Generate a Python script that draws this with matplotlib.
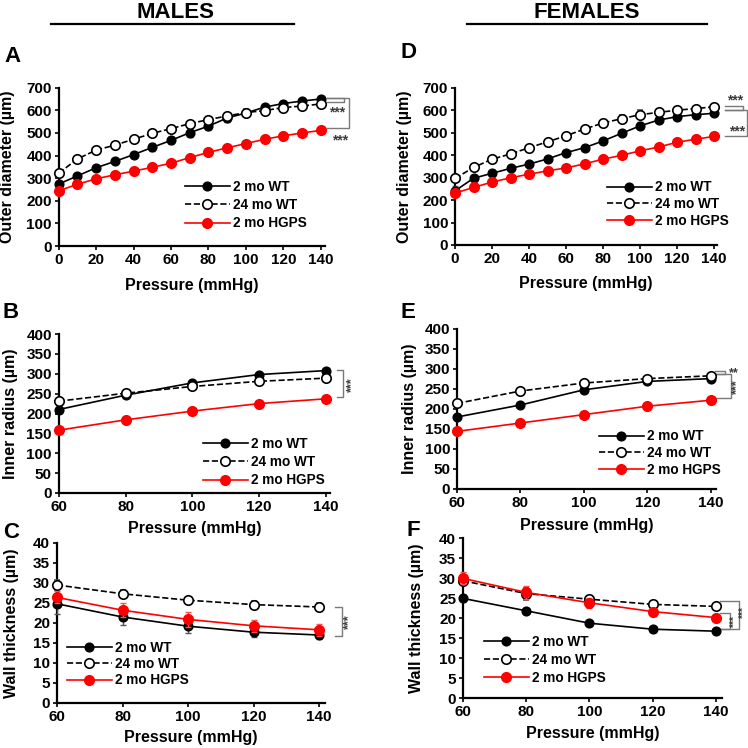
import matplotlib
matplotlib.use('Agg')
import matplotlib.pyplot as plt
import matplotlib.transforms as mtransforms
from matplotlib.lines import Line2D

plt.rcParams['font.family'] = ['Liberation Sans', 'DejaVu Sans']
plt.rcParams['font.weight'] = 'bold'
plt.rcParams['axes.labelweight'] = 'bold'

# ---------------- data ----------------
pressure_full = [0, 10, 20, 30, 40, 50, 60, 70, 80, 90, 100, 110, 120, 130, 140]
pressure_sub = [60, 80, 100, 120, 140]
series_labels = ['2 mo WT', '24 mo WT', '2 mo HGPS']

# A: males outer diameter (um)
m_od_wt2 = [274, 310, 346, 374, 404, 436, 467, 501, 530, 566, 588, 614, 630, 641, 650]
m_od_wt2_err = [6, 6, 8, 8, 10, 18, 16, 18, 16, 16, 14, 10, 8, 6, 6]
m_od_wt24 = [322, 385, 424, 446, 472, 498, 519, 541, 559, 575, 590, 599, 612, 619, 628]
m_od_wt24_err = [8, 8, 8, 8, 8, 8, 8, 8, 8, 14, 16, 10, 8, 8, 10]
m_od_hg = [244, 273, 297, 315, 331, 348, 366, 391, 414, 434, 453, 472, 487, 500, 511]
m_od_hg_err = [5, 5, 5, 5, 5, 5, 5, 5, 5, 5, 5, 5, 5, 5, 5]

# D: females outer diameter (um)
f_od_wt2 = [241, 297, 319, 341, 360, 383, 411, 433, 463, 497, 530, 556, 571, 580, 586]
f_od_wt2_err = [20, 8, 8, 8, 8, 8, 8, 8, 8, 10, 16, 10, 10, 8, 8]
f_od_wt24 = [296, 345, 382, 405, 433, 459, 486, 516, 543, 562, 580, 590, 600, 607, 615]
f_od_wt24_err = [8, 8, 8, 8, 8, 8, 8, 8, 10, 16, 20, 16, 15, 12, 12]
f_od_hg = [231, 256, 280, 299, 315, 330, 343, 361, 382, 399, 419, 436, 457, 471, 483]
f_od_hg_err = [5, 5, 5, 5, 5, 5, 5, 5, 5, 5, 5, 5, 5, 5, 5]

# B: males inner radius (um)
m_ir_wt2 = [210, 246, 277, 298, 308]
m_ir_wt2_err = [6, 5, 5, 5, 5]
m_ir_wt24 = [231, 251, 268, 281, 289]
m_ir_wt24_err = [5, 5, 5, 5, 5]
m_ir_hg = [158, 184, 206, 225, 237]
m_ir_hg_err = [4, 4, 4, 4, 4]

# E: females inner radius (um)
f_ir_wt2 = [180, 210, 248, 269, 276]
f_ir_wt2_err = [5, 5, 5, 5, 5]
f_ir_wt24 = [214, 245, 265, 276, 283]
f_ir_wt24_err = [5, 5, 5, 5, 5]
f_ir_hg = [144, 165, 186, 207, 222]
f_ir_hg_err = [4, 4, 4, 4, 4]

# C: males wall thickness (um)
m_wt_wt2 = [24.8, 21.5, 19.2, 17.7, 17.0]
m_wt_wt2_err = [2.5, 2.0, 1.6, 1.3, 1.0]
m_wt_wt24 = [29.5, 27.3, 25.7, 24.6, 24.0]
m_wt_wt24_err = [1.3, 0.9, 0.8, 0.8, 1.0]
m_wt_hg = [26.4, 23.2, 20.9, 19.3, 18.3]
m_wt_hg_err = [1.5, 1.8, 1.8, 1.5, 1.5]

# F: females wall thickness (um)
f_wt_wt2 = [24.9, 21.8, 18.7, 17.2, 16.7]
f_wt_wt2_err = [0.8, 0.7, 0.7, 0.6, 0.6]
f_wt_wt24 = [29.3, 26.1, 24.7, 23.4, 22.9]
f_wt_wt24_err = [1.0, 1.5, 0.8, 0.7, 0.7]
f_wt_hg = [29.9, 26.4, 23.8, 21.6, 20.1]
f_wt_hg_err = [1.5, 1.7, 1.2, 1.0, 0.9]

# ---------------- figure ----------------
W = H = 748
fig = plt.figure(figsize=(W / 100, H / 100), dpi=100)

def add_ax(left, right, top, bottom):
    return fig.add_axes([left / W, 1 - bottom / H, (right - left) / W, (bottom - top) / H])

GRAY = '#7a7a7a'
TXT_GRAY = '#3a3a3a'

def draw(ax, x, wt, wte, old, olde, hg, hge, xlim, ylim, yticks, xticks, ylabel,
         leg_xy, leg_space, xl_y, yl_x):
    c1 = ax.errorbar(x, wt, yerr=wte, color='black', marker='o', ms=6.3, mfc='black', mec='black',
                     lw=1.2, ecolor='#555555', elinewidth=1.0, capsize=2, capthick=1.0, zorder=3)
    c2 = ax.errorbar(x, old, yerr=olde, color='black', ls='--', marker='o', ms=6.8, mfc='white',
                     mec='black', mew=1.2, lw=1.2, ecolor='#555555', elinewidth=1.0, capsize=2,
                     capthick=1.0, zorder=4)
    c3 = ax.errorbar(x, hg, yerr=hge, color='#ff0000', marker='o', ms=7.0, mfc='#ff0000',
                     mec='#ff0000', lw=1.2, ecolor='#ff5050', elinewidth=1.0, capsize=2,
                     capthick=1.0, zorder=5)
    for c in (c1, c2, c3):
        c[0].set_clip_on(False)
        for b in c[1]:
            b.set_clip_on(False)
        for b in c[2]:
            b.set_clip_on(False)
    ax.set_xlim(*xlim)
    ax.set_ylim(*ylim)
    ax.set_yticks(yticks)
    ax.set_xticks(xticks)
    for s in ('top', 'right'):
        ax.spines[s].set_visible(False)
    for s in ('left', 'bottom'):
        ax.spines[s].set_linewidth(1.6)
    ax.tick_params(direction='out', length=3, width=1.2, labelsize=11, pad=2)
    for lab in ax.get_xticklabels() + ax.get_yticklabels():
        lab.set_fontweight('bold')
    ax.set_xlabel('Pressure (mmHg)', fontsize=11.5, fontweight='bold')
    ax.set_ylabel(ylabel, fontsize=11.5, fontweight='bold')
    ax.xaxis.set_label_coords(0.5, xl_y)
    ax.yaxis.set_label_coords(yl_x, 0.5)
    handles = [c1[0], c2[0], c3[0]]
    lx, ly = leg_xy
    leg = ax.legend(handles, series_labels, loc='center left',
                    bbox_to_anchor=(lx / W, 1 - ly / H), bbox_transform=fig.transFigure,
                    frameon=False, fontsize=9.8, handlelength=3.3, handletextpad=0.2,
                    labelspacing=leg_space, borderpad=0, borderaxespad=0)
    for t in leg.get_texts():
        t.set_fontweight('bold')
    return ax

def bracket(ax, x0, x1, ya, yb, color=GRAY):
    tr = mtransforms.blended_transform_factory(ax.transAxes, ax.transData)
    ax.plot([x0, x1, x1, x0], [ya, ya, yb, yb], color=color, lw=1.0, transform=tr,
            clip_on=False, zorder=2)

def stars(ax, x, y, s='***', rot=0, size=10):
    tr = mtransforms.blended_transform_factory(ax.transAxes, ax.transData)
    ax.text(x, y, s, transform=tr, rotation=rot, ha='center', va='center', fontsize=size,
            color=TXT_GRAY, fontweight='bold', clip_on=False)

# A
axA = add_ax(58.7, 325, 87.7, 246)
draw(axA, pressure_full, m_od_wt2, m_od_wt2_err, m_od_wt24, m_od_wt24_err, m_od_hg, m_od_hg_err,
     (0, 142.3), (0, 700), range(0, 701, 100), range(0, 141, 20), 'Outer diameter (\u00b5m)',
     (185, 205), 0.32, -0.20, -0.165)
bracket(axA, 1.008, 1.070, m_od_wt2[-1] + 3, m_od_wt24[-1] + 8)
bracket(axA, 1.008, 1.090, m_od_wt2[-1] + 3, m_od_hg[-1] + 10)
stars(axA, 1.045, 590)
stars(axA, 1.058, 465)

# D
axD = add_ax(455, 717, 87.7, 245)
draw(axD, pressure_full, f_od_wt2, f_od_wt2_err, f_od_wt24, f_od_wt24_err, f_od_hg, f_od_hg_err,
     (0, 141.6), (0, 700), range(0, 701, 100), range(0, 141, 20), 'Outer diameter (\u00b5m)',
     (607, 204), 0.2, -0.197, -0.165)
bracket(axD, 1.031, 1.099, f_od_wt24[-1] + 5, f_od_wt2[-1] + 15)
bracket(axD, 1.031, 1.114, f_od_wt2[-1] + 15, f_od_hg[-1] + 3)
stars(axD, 1.069, 642)
stars(axD, 1.076, 503)

# B
axB = add_ax(58.7, 330, 334, 493)
draw(axB, pressure_sub, m_ir_wt2, m_ir_wt2_err, m_ir_wt24, m_ir_wt24_err, m_ir_hg, m_ir_hg_err,
     (60, 141.2), (0, 400), range(0, 401, 50), pressure_sub, 'Inner radius (\u00b5m)',
     (203, 462), 0.32, -0.176, -0.150)
bracket(axB, 1.025, 1.049, m_ir_wt2[-1] + 1, m_ir_hg[-1] + 4)
stars(axB, 1.080, 273, rot=90, size=9)

# E
axE = add_ax(457, 716, 329, 489)
draw(axE, pressure_sub, f_ir_wt2, f_ir_wt2_err, f_ir_wt24, f_ir_wt24_err, f_ir_hg, f_ir_hg_err,
     (60, 141.6), (0, 400), range(0, 401, 50), pressure_sub, 'Inner radius (\u00b5m)',
     (599, 453), 0.2, -0.18, -0.155)
bracket(axE, 0.996, 1.035, f_ir_wt24[-1] + 13, f_ir_wt2[-1] + 11)
bracket(axE, 0.996, 1.057, f_ir_wt2[-1] + 11, f_ir_hg[-1] + 6)
stars(axE, 1.068, 289, s='**', size=9)
stars(axE, 1.082, 257, rot=90, size=9)

# C
axC = add_ax(57, 325, 543, 703)
draw(axC, pressure_sub, m_wt_wt2, m_wt_wt2_err, m_wt_wt24, m_wt_wt24_err, m_wt_hg, m_wt_hg_err,
     (60, 141.8), (0, 40), range(0, 41, 5), pressure_sub, 'Wall thickness (\u00b5m)',
     (67, 664), 0.18, -0.17, -0.143)
bracket(axC, 1.037, 1.062, m_wt_wt24[-1] - 0.1, m_wt_wt2[-1] - 0.2)
stars(axC, 1.090, 20.4, rot=90, size=9)

# F
axF = add_ax(463, 722, 538, 698)
draw(axF, pressure_sub, f_wt_wt2, f_wt_wt2_err, f_wt_wt24, f_wt_wt24_err, f_wt_hg, f_wt_hg_err,
     (60, 141.9), (0, 40), range(0, 41, 5), pressure_sub, 'Wall thickness (\u00b5m)',
     (484, 660), 0.28, -0.175, -0.151)
bracket(axF, 0.992, 1.067, f_wt_wt24[-1] + 1.3, f_wt_wt2[-1] + 0.5)
bracket(axF, 0.992, 1.031, f_wt_hg[-1] + 1.1, f_wt_wt2[-1] + 0.5)
stars(axF, 1.083, 21.3, rot=90, size=7.5)
stars(axF, 1.048, 19.0, rot=90, size=7.5)

# panel letters
letter_font = ['Liberation Sans Narrow', 'Liberation Sans']
for lab, (px, py) in {'A': (4, 56), 'D': (400, 53), 'B': (3, 313), 'E': (400, 313),
                      'C': (3, 532), 'F': (407, 531)}.items():
    fig.text(px / W, 1 - py / H, lab, fontsize=16, fontweight='bold', family=letter_font,
             ha='left', va='center')

# headers
for lab, cx, x0, x1 in (('MALES', 176, 51, 294), ('FEMALES', 587, 467, 707)):
    fig.text(cx / W, 1 - 12 / H, lab, fontsize=16, fontweight='bold', family=letter_font,
             ha='center', va='center')
    fig.add_artist(Line2D([x0 / W, x1 / W], [1 - 24 / H, 1 - 24 / H], color='black', lw=1.6,
                          transform=fig.transFigure))

fig.savefig('out.png', dpi=100)
